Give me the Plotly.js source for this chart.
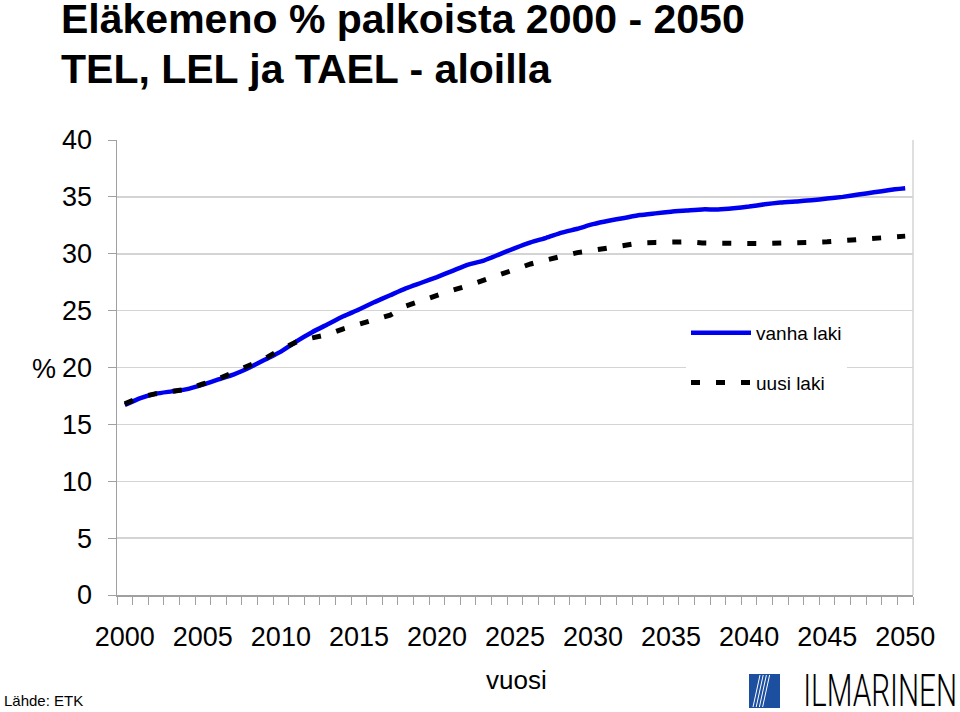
<!DOCTYPE html>
<html>
<head>
<meta charset="utf-8">
<script src="https://cdn.plot.ly/plotly-3.0.1.min.js"></script>
<style>html,body{margin:0;padding:0;background:#fff;}#chart{width:960px;height:712px;}</style>
</head>
<body>
<div id="chart"></div>
<script>
const years = [2000,2001,2002,2003,2004,2005,2006,2007,2008,2009,
  2010,2011,2012,2013,2014,2015,2016,2017,2018,2019,
  2020,2021,2022,2023,2024,2025,2026,2027,2028,2029,
  2030,2031,2032,2033,2034,2035,2036,2037,2038,2039,
  2040,2041,2042,2043,2044,2045,2046,2047,2048,2049,2050];
const vanhaLaki = [16.7,17.3,17.7,17.9,18.1,18.5,18.95,19.4,20.0,20.7,
  21.4,22.3,23.1,23.8,24.5,25.1,25.75,26.35,26.95,27.45,
  27.95,28.5,29.05,29.4,29.95,30.5,31.0,31.4,31.85,32.2,
  32.6,32.9,33.15,33.4,33.55,33.7,33.8,33.9,33.9,34.0,
  34.15,34.35,34.5,34.6,34.7,34.85,35.0,35.2,35.4,35.6,35.75];
const uusiLaki = [16.8,17.4,17.7,17.95,18.1,18.55,19.0,19.6,20.2,20.8,
  21.6,22.25,22.6,22.9,23.4,23.8,24.3,24.6,25.4,25.9,
  26.35,26.8,27.2,27.7,28.15,28.7,29.1,29.45,29.8,30.1,
  30.3,30.55,30.8,30.95,31.0,31.05,31.05,30.95,30.9,30.9,
  30.9,30.9,30.9,30.95,31.0,31.05,31.15,31.25,31.3,31.4,31.55];
const xTickLabels = [2000,2005,2010,2015,2020,2025,2030,2035,2040,2045,2050];
const yTickLabels = [0,5,10,15,20,25,30,35,40];
const seriesNames = ['vanha laki','uusi laki'];
const titleLines = ['Eläkemeno % palkoista 2000 - 2050','TEL, LEL ja TAEL - aloilla'];

// layout helpers (pixel -> paper)
const L = 117, R = 47, T = 140, B = 117, W = 960, H = 712;
const pw = W - L - R, ph = H - T - B;
const px = x => (x - L) / pw;
const py = y => (H - B - y) / ph;

const FONT = 'Liberation Sans, Arial, sans-serif';
const boundaries = [];
for (let i = 0; i <= years.length; i++) boundaries.push(years[0] - 0.5 + i);

const traces = [
  {x: years, y: vanhaLaki, name: seriesNames[0], type: 'scatter', mode: 'lines',
   line: {color: '#0000f0', width: 4.5, shape: 'spline', smoothing: 0.5}, legendgroup: 'a'},
  {x: years, y: uusiLaki, name: seriesNames[1], type: 'scatter', mode: 'lines',
   line: {color: '#000000', width: 5, dash: '9px,16px'}, legendgroup: 'b'}
];

const layout = {
  width: W, height: H,
  margin: {l: L, r: R, t: T, b: B, pad: 0},
  paper_bgcolor: '#fff', plot_bgcolor: '#fff',
  font: {family: FONT, color: '#000'},
  showlegend: true,
  legend: {x: px(686), y: py(314), xanchor: 'left', yanchor: 'top',
    bgcolor: '#fff', borderwidth: 0, font: {size: 19, family: FONT, color: '#000'},
    traceorder: 'grouped', tracegroupgap: 22, itemwidth: 60},
  xaxis: {range: [years[0] - 0.5, years[years.length - 1] + 0.5],
    tickmode: 'array', tickvals: xTickLabels, ticktext: xTickLabels.map(String),
    ticks: '', showgrid: false, zeroline: false,
    showline: true, linecolor: '#a0a0a0', linewidth: 1.5,
    tickfont: {size: 27, family: FONT, color: '#000'}, ticklabelstandoff: 17,
    minor: {tickmode: 'array', tickvals: boundaries, ticks: 'outside', ticklen: 8,
      tickcolor: '#a0a0a0', tickwidth: 1, showgrid: false}},
  yaxis: {range: [0, 40], tickmode: 'array', tickvals: yTickLabels,
    ticks: 'outside', ticklen: 8, tickcolor: '#a0a0a0', tickwidth: 1,
    showgrid: true, gridcolor: '#d4d4d4', gridwidth: 1.5, zeroline: false,
    showline: true, linecolor: '#a0a0a0', linewidth: 1.5,
    tickfont: {size: 27, family: FONT, color: '#000'}, ticklabelstandoff: 10},
  shapes: [
    {type: 'line', xref: 'paper', yref: 'paper', x0: 1, x1: 1, y0: 0, y1: 1,
     line: {color: '#d4d4d4', width: 1.5}},
    {type: 'rect', xref: 'paper', yref: 'paper', x0: px(749), x1: px(780), y0: py(674), y1: py(708),
     fillcolor: '#1c4f9f', line: {width: 0}},
    ...[0, 1, 2, 3].map(i => ({type: 'line', xref: 'paper', yref: 'paper',
      x0: px(760 + i * 3.2), y0: py(675), x1: px(753 + i * 3.2), y1: py(707),
      line: {color: '#fff', width: 1}}))
  ],
  annotations: [
    {text: titleLines[0], xref: 'paper', yref: 'paper', x: px(59), y: py(19), xanchor: 'left', yanchor: 'middle',
     showarrow: false, font: {size: 41, family: FONT, weight: 'bold', color: '#000'}},
    {text: titleLines[1], xref: 'paper', yref: 'paper', x: px(59), y: py(69), xanchor: 'left', yanchor: 'middle',
     showarrow: false, font: {size: 41, family: FONT, weight: 'bold', color: '#000'}},
    {text: '%', xref: 'paper', yref: 'paper', x: px(44), y: py(369), xanchor: 'center', yanchor: 'middle',
     showarrow: false, font: {size: 27, family: FONT, color: '#000'}},
    {text: 'vuosi', xref: 'paper', yref: 'paper', x: px(516), y: py(680), xanchor: 'center', yanchor: 'middle',
     showarrow: false, font: {size: 26, family: FONT, color: '#000'}},
    {text: 'Lähde: ETK', xref: 'paper', yref: 'paper', x: px(2), y: py(700), xanchor: 'left', yanchor: 'middle',
     showarrow: false, font: {size: 15, family: FONT, color: '#000'}},
    {text: 'ILMARINEN', xref: 'paper', yref: 'paper', x: px(959), y: py(691), xanchor: 'right', yanchor: 'middle',
     align: 'right', showarrow: false,
     font: {size: 44, family: 'Roboto, ' + FONT, weight: 300, color: '#000'}}
  ]
};

Plotly.newPlot('chart', traces, layout, {displayModeBar: false, staticPlot: true}).then(() => {
  document.querySelectorAll('.annotation-text').forEach(t => {
    if (t.textContent === 'ILMARINEN') {
      t.setAttribute('textLength', '154');
      t.setAttribute('lengthAdjust', 'spacingAndGlyphs');
    }
  });
});
</script>
</body>
</html>
